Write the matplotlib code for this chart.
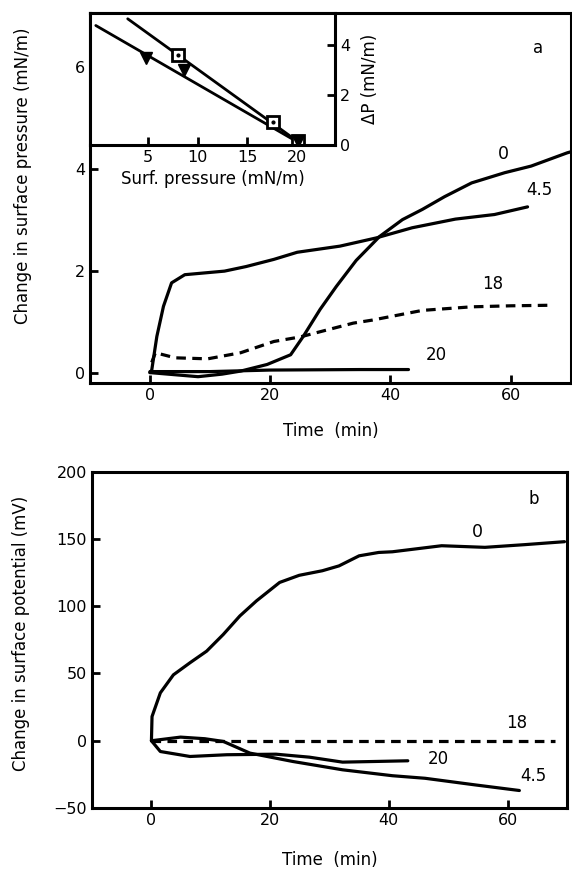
import matplotlib.pyplot as plt

plt.rcParams["font.family"] = "DejaVu Sans"
plt.rcParams["font.size"] = 11.5
plt.rcParams["lines.solid_joinstyle"] = "round"
plt.rcParams["lines.solid_capstyle"] = "round"

# panel a: change in surface pressure (mN/m) vs time (min)
t_a0 = [0, 4, 8, 12, 15.1, 19.5, 23.4, 25.5, 28.3, 31, 34.3, 38.2, 42, 45.3, 49, 53.5, 59, 63.4, 69.4, 70]
p_a0 = [0, -0.04, -0.08, -0.03, 0.03, 0.16, 0.35, 0.71, 1.24, 1.69, 2.2, 2.67, 3.0, 3.2, 3.45, 3.72, 3.92, 4.05, 4.31, 4.33]
t_a45 = [0, 0.3, 1.15, 2.25, 3.6, 5.8, 12.4, 16, 20.6, 24.5, 31.6, 37.6, 43.6, 50.8, 57.3, 62.8]
p_a45 = [0, 0.05, 0.71, 1.3, 1.76, 1.92, 1.99, 2.08, 2.22, 2.36, 2.48, 2.64, 2.84, 3.01, 3.1, 3.25]
t_a18 = [0.3, 0.9, 4.2, 9.6, 15.1, 20.6, 25, 33.8, 37, 45.3, 53.5, 60, 66.1]
p_a18 = [0.2, 0.39, 0.29, 0.27, 0.39, 0.61, 0.7, 0.97, 1.03, 1.22, 1.29, 1.31, 1.32]
t_a20 = [0, 10, 20, 34.9, 43]
p_a20 = [0.02, 0.02, 0.05, 0.06, 0.06]

# inset: delta P vs surface pressure
sq_x = [8.0, 17.6, 20.1]
sq_y = [3.6, 0.9, 0.15]
tri_x = [4.8, 8.6, 20.1]
tri_y = [3.5, 3.0, 0.15]
fit_sq_x = [3.0, 20.5]
fit_sq_y = [5.07, 0.0]
fit_tri_x = [-0.2, 20.5]
fit_tri_y = [4.8, 0.0]

# panel b: change in surface potential (mV) vs time (min)
t_b0 = [0, 0.1, 1.5, 3.7, 6.5, 9.3, 12.1, 14.9, 17.7, 21.6, 24.9, 28.8, 31.6, 35, 38.3, 40.6,
        48.9, 56.2, 62.9, 69.6]
v_b0 = [0, 18, 35.6, 49, 58, 66.6, 79, 92.8, 104, 117.7, 123, 126.4, 130, 137.5, 140, 140.5,
        145, 143.8, 145.8, 148]
t_b18 = [0, 10, 30, 50, 68]
v_b18 = [0, 0, 0, 0, 0]
t_b45 = [0, 4.9, 9, 12.1, 16.6, 23.8, 32.2, 40.6, 46.1, 54.5, 62]
v_b45 = [0, 2.7, 1.5, -0.5, -9.2, -15.4, -21.6, -26, -27.9, -32.8, -37]
t_b20 = [0, 1.5, 6.5, 12.7, 21, 26.6, 32.2, 37.8, 43.2]
v_b20 = [0, -8, -11.7, -10.4, -10, -12.2, -15.9, -15.4, -14.9]

lw = 2.3
dash = (0, (3, 2))

fig = plt.figure(figsize=(5.72, 8.72), dpi=100)
ax1 = fig.add_axes([0.157, 0.561, 0.841, 0.424])
ax2 = fig.add_axes([0.161, 0.0734, 0.830, 0.3856])
ins = fig.add_axes([0.157, 0.834, 0.429, 0.151])

for ax in (ax1, ax2, ins):
    for s in ax.spines.values():
        s.set_linewidth(2.2)
    ax.tick_params(direction="in", width=2, length=6, labelsize=11.5)

# panel a
ax1.plot(t_a0, p_a0, color="black", lw=lw)
ax1.plot(t_a45, p_a45, color="black", lw=lw)
ax1.plot(t_a18, p_a18, color="black", lw=lw, ls=dash)
ax1.plot(t_a20, p_a20, color="black", lw=lw)
ax1.set_xlim(-10, 70)
ax1.set_ylim(-0.2, 7.05)
ax1.set_xticks([0, 20, 40, 60])
ax1.set_yticks([0, 2, 4, 6])
ax1.set_xlabel("Time  (min)", fontsize=12, labelpad=14)
ax1.set_ylabel("Change in surface pressure (mN/m)", fontsize=12)
ax1.yaxis.set_label_coords(-0.12, 0.56)
ax1.text(58.7, 4.29, "0", fontsize=12.5, ha="center", va="center")
ax1.text(64.7, 3.59, "4.5", fontsize=12, ha="center", va="center")
ax1.text(57, 1.74, "18", fontsize=12, ha="center", va="center")
ax1.text(47.7, 0.35, "20", fontsize=12, ha="center", va="center")
ax1.text(64.5, 6.37, "a", fontsize=12, ha="center", va="center")

# inset
ins.set_facecolor("white")
ins.plot(fit_sq_x, fit_sq_y, color="black", lw=2)
ins.plot(fit_tri_x, fit_tri_y, color="black", lw=2)
ins.plot(sq_x, sq_y, ls="none", marker="s", ms=8, mfc="white", mec="black", mew=2)
ins.plot(sq_x, sq_y, ls="none", marker="o", ms=2, color="black")
ins.plot(tri_x, tri_y, ls="none", marker="v", ms=9, color="black")
ins.set_xlim(-0.8, 23.8)
ins.set_ylim(0, 5.3)
ins.set_xticks([5, 10, 15, 20])
ins.set_yticks([0, 2, 4])
ins.yaxis.tick_right()
ins.yaxis.set_label_position("right")
ins.tick_params(axis="y", direction="in", length=6)
ins.set_xlabel("Surf. pressure (mN/m)", fontsize=12, labelpad=4)
ins.set_ylabel("ΔP (mN/m)", fontsize=12, labelpad=8)

# panel b
ax2.plot(t_b0, v_b0, color="black", lw=lw)
ax2.plot(t_b18, v_b18, color="black", lw=lw, ls=dash)
ax2.plot(t_b45, v_b45, color="black", lw=lw)
ax2.plot(t_b20, v_b20, color="black", lw=lw)
ax2.set_xlim(-10, 70)
ax2.set_ylim(-50, 200)
ax2.set_xticks([0, 20, 40, 60])
ax2.set_yticks([-50, 0, 50, 100, 150, 200])
ax2.set_xlabel("Time  (min)", fontsize=12, labelpad=17)
ax2.set_ylabel("Change in surface potential (mV)", fontsize=12)
ax2.yaxis.set_label_coords(-0.13, 0.52)
ax2.text(55, 155, "0", fontsize=12.5, ha="center", va="center")
ax2.text(61.5, 13, "18", fontsize=12, ha="center", va="center")
ax2.text(48.4, -13.7, "20", fontsize=12, ha="center", va="center")
ax2.text(64.3, -26, "4.5", fontsize=12, ha="center", va="center")
ax2.text(64.5, 180, "b", fontsize=12, ha="center", va="center")

fig.savefig("out.png", dpi=100)
